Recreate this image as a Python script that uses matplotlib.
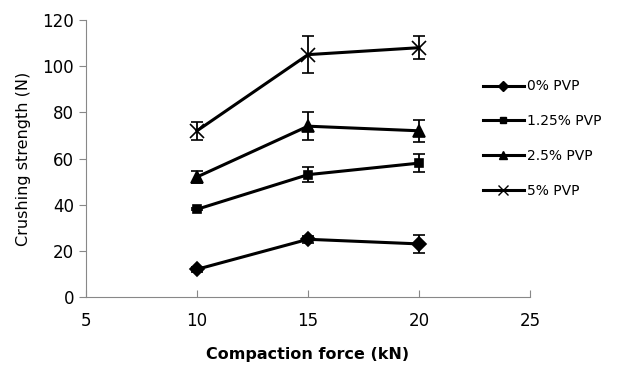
import matplotlib
matplotlib.use("Agg")
import matplotlib.pyplot as plt
from matplotlib.lines import Line2D

# Data
force = [10, 15, 20]
labels = ["0% PVP", "1.25% PVP", "2.5% PVP", "5% PVP"]
pvp_0 = [12, 25, 23]
pvp_0_err = [1, 1.5, 3.8]
pvp_125 = [38, 53, 58]
pvp_125_err = [0.5, 3.2, 4]
pvp_25 = [52, 74, 72]
pvp_25_err = [2.5, 6, 4.8]
pvp_5 = [72, 105, 108]
pvp_5_err = [4, 8, 5]

series = [(pvp_0, pvp_0_err, "D", 7),
          (pvp_125, pvp_125_err, "s", 6),
          (pvp_25, pvp_25_err, "^", 8),
          (pvp_5, pvp_5_err, "x", 10)]

fig = plt.figure(figsize=(6.26, 3.65), dpi=100)
ax = fig.add_axes([86 / 626, 1 - 297 / 365, (530 - 86) / 626, (297 - 20) / 365])

handles = []
for (vals, err, m, ms), lab in zip(series, labels):
    ax.errorbar(force, vals, yerr=err, color="black", lw=2.2, marker=m, ms=ms,
                mew=1.2, capsize=4, elinewidth=1.3, capthick=1.3)
    handles.append(Line2D([], [], color="black", lw=2.2, marker=m, ms=ms * 0.75,
                          mew=1.0, label=lab))

ax.set_xlim(5, 25)
ax.set_ylim(0, 120)
ax.set_xticks([5, 10, 15, 20, 25])
ax.set_yticks(range(0, 121, 20))
for side in ["top", "right"]:
    ax.spines[side].set_visible(False)
for side in ["left", "bottom"]:
    ax.spines[side].set_color("#888888")
ax.tick_params(axis="both", colors="#888888", labelcolor="black", labelsize=12, length=5)
ax.tick_params(axis="x", direction="in", pad=11)
ax.tick_params(axis="y", direction="out")

ax.set_xlabel("Compaction force (kN)", fontsize=11.5, fontweight="bold", labelpad=12)
ax.set_ylabel("Crushing strength (N)", fontsize=11.5, labelpad=8)

fig.legend(handles=handles, loc="upper left", bbox_to_anchor=(470 / 626, 1 - 67 / 365),
           frameon=False, fontsize=10, handlelength=3, labelspacing=1.5,
           handletextpad=0.2)

fig.savefig("out.png", dpi=100)
